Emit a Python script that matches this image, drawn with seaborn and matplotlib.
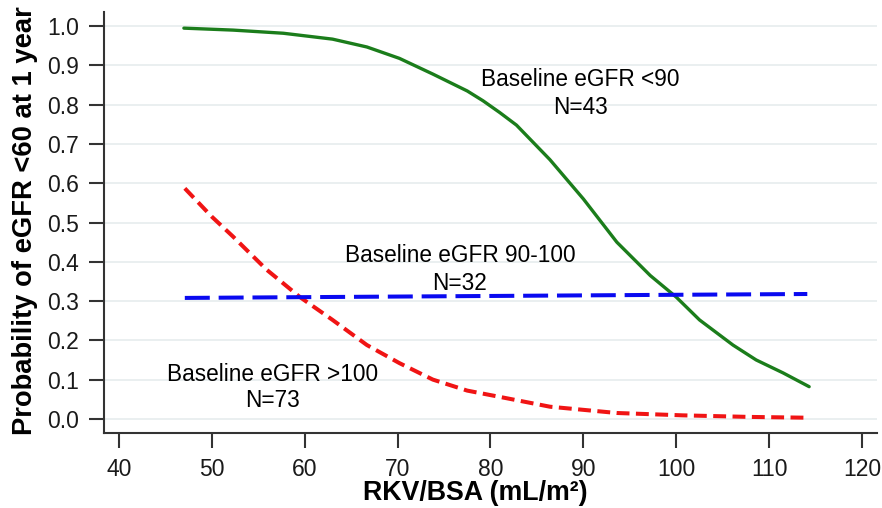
import numpy as np
import pandas as pd
import matplotlib
matplotlib.use('Agg')
import matplotlib.pyplot as plt
import seaborn as sns

# values
green_x = [47.0, 52.3, 57.7, 63.0, 66.7, 70.2, 73.8, 77.5, 79.2, 81.0, 82.8, 86.4,
           90.0, 93.6, 97.2, 100.0, 102.5, 106.1, 108.6, 111.5, 114.3]
green_y = [0.995, 0.990, 0.982, 0.967, 0.947, 0.918, 0.878, 0.835, 0.810, 0.780, 0.748, 0.660,
           0.560, 0.450, 0.365, 0.310, 0.252, 0.188, 0.150, 0.117, 0.082]

red_x = [47.1, 50.0, 52.3, 55.9, 59.5, 63.0, 66.7, 70.2, 73.8, 77.5, 81.0, 86.4,
         93.6, 100.7, 107.9, 114.0]
red_y = [0.587, 0.515, 0.464, 0.380, 0.310, 0.252, 0.188, 0.142, 0.100, 0.072, 0.056, 0.031,
         0.015, 0.009, 0.005, 0.003]

blue_x = [47.1, 60.0, 80.0, 100.0, 114.1]
blue_y = [0.308, 0.310, 0.313, 0.316, 0.318]

x_ticks = [40, 50, 60, 70, 80, 90, 100, 110, 120]
y_ticks = [0.0, 0.1, 0.2, 0.3, 0.4, 0.5, 0.6, 0.7, 0.8, 0.9, 1.0]

labels = [
    ('Baseline eGFR <90', 'N=43', 89.7, 0.863, 0.794),
    ('Baseline eGFR 90-100', 'N=32', 76.7, 0.417, 0.346),
    ('Baseline eGFR >100', 'N=73', 56.5, 0.112, 0.048),
]

sns.set_theme(style='white')
plt.rcParams['font.family'] = ['Liberation Sans', 'DejaVu Sans']

fig = plt.figure(figsize=(8.82, 5.08), dpi=100)
ax = fig.add_axes([0.1179, 0.1476, 0.8764, 0.8287])

df_g = pd.DataFrame({'x': green_x, 'y': green_y})
df_r = pd.DataFrame({'x': red_x, 'y': red_y})
df_b = pd.DataFrame({'x': blue_x, 'y': blue_y})

sns.lineplot(data=df_g, x='x', y='y', ax=ax, color='#1b7d1b', linewidth=2.4, zorder=3)
sns.lineplot(data=df_r, x='x', y='y', ax=ax, color='#f01414', linewidth=2.9,
             linestyle=(0, (3.2, 1.6)), zorder=3)
sns.lineplot(data=df_b, x='x', y='y', ax=ax, color='#0a0af0', linewidth=2.9,
             linestyle=(0, (6.2, 2.2)), zorder=3)

for line1, line2, lx, ly1, ly2 in labels:
    ax.text(lx, ly1, line1, ha='center', va='center', fontsize=16.3, color='black')
    ax.text(lx, ly2, line2, ha='center', va='center', fontsize=16.3, color='black')

ax.set_xlim(38.4, 121.6)
ax.set_ylim(-0.036, 1.036)
ax.set_xticks(x_ticks)
ax.set_yticks(y_ticks)
ax.set_yticklabels([f'{v:.1f}' for v in y_ticks])

# light horizontal grid only
ax.yaxis.grid(True, color='#e6ecee', linewidth=1.2, zorder=0)
ax.xaxis.grid(False)

for side in ['top', 'right']:
    ax.spines[side].set_visible(False)
for side in ['left', 'bottom']:
    ax.spines[side].set_color('#333333')
    ax.spines[side].set_linewidth(1.5)

ax.tick_params(axis='both', which='major', direction='out', length=11, width=1.5,
               color='#333333', labelsize=16.5, labelcolor='#1a1a1a', pad=7,
               left=True, bottom=True)

ax.set_xlabel('RKV/BSA (mL/m²)', fontsize=19.3, fontweight='bold', color='black')
ax.set_ylabel('Probability of eGFR <60 at 1 year', fontsize=19.7, fontweight='bold',
              color='black')
ax.xaxis.set_label_coords(0.481, -0.112)
ax.yaxis.set_label_coords(-0.085, 0.504)

fig.savefig('out.png', dpi=100, facecolor='white')
